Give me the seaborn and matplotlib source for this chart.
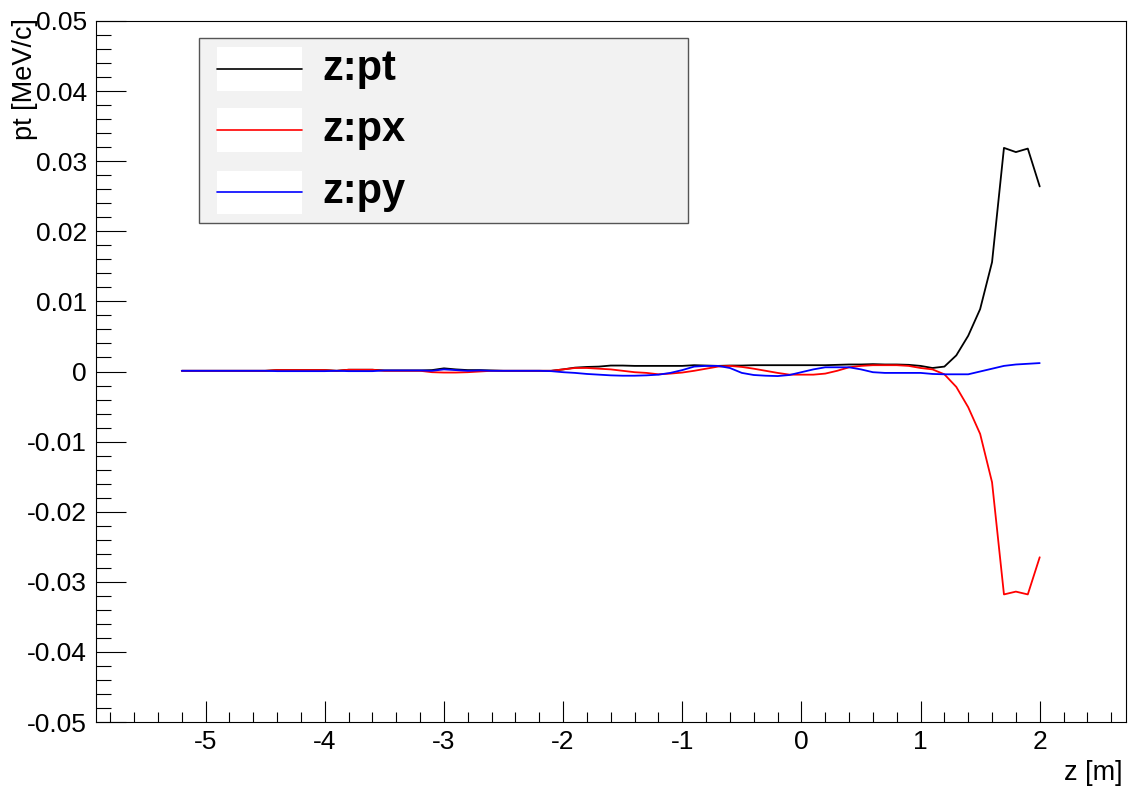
import numpy as np
import pandas as pd
import seaborn as sns
import matplotlib.pyplot as plt
from matplotlib.patches import Rectangle
from matplotlib.lines import Line2D
from matplotlib.ticker import MultipleLocator, FuncFormatter

# z positions [m]
z = [-5.2, -5.1, -5.0, -4.9, -4.8, -4.7, -4.6, -4.5, -4.4, -4.3,
     -4.2, -4.1, -4.0, -3.9, -3.8, -3.7, -3.6, -3.5, -3.4, -3.3,
     -3.2, -3.1, -3.0, -2.9, -2.8, -2.7, -2.6, -2.5, -2.4, -2.3,
     -2.2, -2.1, -2.0, -1.9, -1.8, -1.7, -1.6, -1.5, -1.4, -1.3,
     -1.2, -1.1, -1.0, -0.9, -0.8, -0.7, -0.6, -0.5, -0.4, -0.3,
     -0.2, -0.1, 0.0, 0.1, 0.2, 0.3, 0.4, 0.5, 0.6, 0.7,
     0.8, 0.9, 1.0, 1.1, 1.2, 1.3, 1.4, 1.5, 1.6, 1.7,
     1.8, 1.9, 2.0]

# momenta in units of 1e-4 MeV/c
pt = [1, 1, 1, 1, 1, 1, 1, 1, 2, 2,
      2, 2, 2, 1, 2.5, 2.5, 2.5, 1.5, 1.5, 1.5,
      1.5, 2, 4.5, 3, 2, 2, 1.5, 1, 1, 1,
      1, 1, 3, 5.5, 6.5, 7, 8.5, 8.5, 8, 8,
      8, 8, 8, 9, 8.5, 8, 8.5, 8.5, 9, 9,
      9, 9, 9, 9, 9, 9.5, 10, 10, 10.5, 10,
      10, 9.5, 8, 5, 7, 23, 51, 89, 156, 319,
      313, 318, 264]
px = [1, 1, 1, 1, 1, 1, 1, 1, 2, 2,
      2, 2, 2, 1, 2.5, 2.5, 2.5, 1, 1, 1,
      1, -1, -1.5, -1.5, -1, 0, 1, 1, 1, 1,
      1, 1, 3, 5, 5, 4, 3, 1, -1, -2,
      -4, -3, -1.5, 1, 4, 7, 8, 6.5, 4, 1,
      -2, -4.5, -4.5, -4.5, -3, 1, 6, 8, 9, 9,
      9, 8, 5, 3, -4, -22, -51, -89, -158, -318,
      -314, -318, -265]
py = [1, 1, 1, 1, 1, 1, 1, 1, 0.5, 0.5,
      0.5, 0.5, 0.5, 1, 0.5, 0.5, 0.5, 1.5, 1.5, 1.5,
      1.5, 1, 3, 2, 1, 1.5, 1, 1, 1, 1,
      1, 0.5, -1, -2, -3.5, -4.5, -5.5, -6, -6, -5.5,
      -4.5, -2, 2, 7, 8, 8, 5, -2, -5, -6,
      -6.5, -5, -1, 3, 6, 6, 6, 3, -1, -2,
      -2, -2, -2, -3.5, -4, -4, -4, 0, 4, 8,
      10, 11, 12]

series = ["z:pt", "z:px", "z:py"]
colors = {"z:pt": "black", "z:px": "#ff0000", "z:py": "#0000ff"}

df = pd.concat([
    pd.DataFrame({"z": z, "p": np.array(pt) * 1e-4, "series": "z:pt"}),
    pd.DataFrame({"z": z, "p": np.array(px) * 1e-4, "series": "z:px"}),
    pd.DataFrame({"z": z, "p": np.array(py) * 1e-4, "series": "z:py"}),
])

sns.set_theme(style="white")
plt.rcParams['font.family'] = ['Liberation Sans', 'DejaVu Sans']
plt.rcParams['axes.unicode_minus'] = False
plt.rcParams['text.color'] = 'black'

W, H = 1131, 791
fig = plt.figure(figsize=(W / 100, H / 100), dpi=100)
fig.patch.set_facecolor("white")
ax = fig.add_axes([96 / W, 1 - 722 / H, (1125.5 - 96) / W, (722 - 21) / H])

sns.lineplot(data=df, x="z", y="p", hue="series", hue_order=series, palette=colors,
             estimator=None, sort=False, linewidth=1.3, legend=False, ax=ax)

ax.set_xlim(-5.92, 2.72)
ax.set_ylim(-0.05, 0.05)
ax.set_xlabel("")
ax.set_ylabel("")

ax.xaxis.set_major_locator(MultipleLocator(1))
ax.xaxis.set_minor_locator(MultipleLocator(0.2))
ax.yaxis.set_major_locator(MultipleLocator(0.01))
ax.yaxis.set_minor_locator(MultipleLocator(0.002))


def fmt(v, _):
    if abs(v) < 1e-9:
        return "0"
    return "%g" % round(v, 4)


ax.xaxis.set_major_formatter(FuncFormatter(fmt))
ax.yaxis.set_major_formatter(FuncFormatter(fmt))

ax.tick_params(axis="both", which="both", direction="in", colors="black",
               top=False, right=False, bottom=True, left=True, width=0.8)
ax.tick_params(axis="y", which="major", length=21.6, pad=6.5, labelsize=19)
ax.tick_params(axis="y", which="minor", length=10.8)
ax.tick_params(axis="x", which="major", length=15, pad=5.5, labelsize=19)
ax.tick_params(axis="x", which="minor", length=7.5)

for s in ax.spines.values():
    s.set_color("black")
    s.set_linewidth(0.8)

# axis titles, ROOT style (right / top aligned)
fig.text(1123 / W, 1 - 780 / H, "z [m]", ha="right", va="baseline", fontsize=19.5,
         color="black")
fig.text(12 / W, 1 - 18 / H, "pt [MeV/c]", ha="left", va="top", rotation=90,
         fontsize=19.5, color="black")

# legend box
fig.patches.append(Rectangle((199 / W, 1 - 223 / H), (688 - 199) / W, (223 - 38) / H,
                             transform=fig.transFigure, facecolor="#f2f2f2",
                             edgecolor="#555555", linewidth=1, zorder=5))
for name, yc in zip(series, [69, 130, 192]):
    fig.patches.append(Rectangle((217 / W, 1 - (yc + 21.5) / H), (302 - 217) / W, 43 / H,
                                 transform=fig.transFigure, facecolor="white",
                                 edgecolor="none", zorder=6))
    fig.lines.append(Line2D([217 / W, 302 / W], [1 - yc / H, 1 - yc / H],
                            transform=fig.transFigure, color=colors[name],
                            linewidth=1.2, zorder=7))
    fig.text(322 / W, 1 - yc / H, name, ha="left", va="center", fontsize=30,
             fontweight="bold", color="black", zorder=8)

fig.savefig("out.png", dpi=100, facecolor="white")
